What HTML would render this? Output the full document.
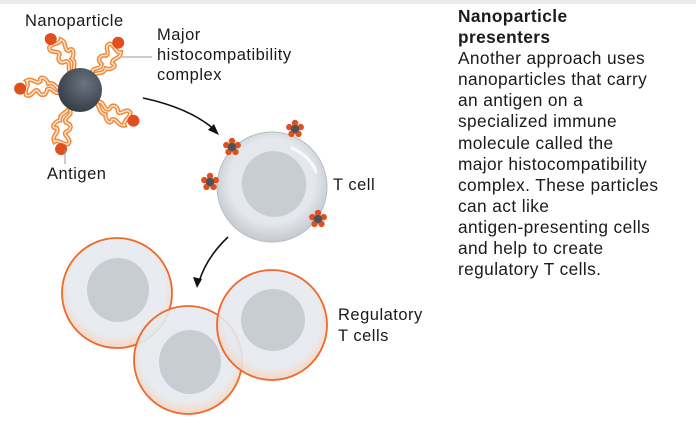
<!DOCTYPE html>
<html><head><style>
body{margin:0;background:#fff;width:696px;height:434px;overflow:hidden;position:relative;font-family:"Liberation Sans",sans-serif;color:#1a1a1a}
.t{position:absolute;font-size:16.5px;line-height:20px;letter-spacing:0.5px}
#txt{position:absolute;left:458px;top:6px;font-size:17.3px;line-height:21.1px;letter-spacing:0.4px;color:#1a1a1a;white-space:nowrap}
</style></head><body>
<div style="position:absolute;left:0;top:0;width:696px;height:4px;background:#ececec"></div>
<svg width="696" height="434" style="position:absolute;left:0;top:0">
<defs>
<radialGradient id="np" cx="0.6" cy="0.35" r="0.7"><stop offset="0" stop-color="#6a7480"/><stop offset="1" stop-color="#323a44"/></radialGradient>
<radialGradient id="cell" cx="0.5" cy="0.45" r="0.55"><stop offset="0.7" stop-color="#e4e7eb"/><stop offset="1" stop-color="#c4c9d0"/></radialGradient>
<radialGradient id="rcell" cx="0.5" cy="0.45" r="0.55"><stop offset="0.8" stop-color="#e6e9ed" stop-opacity="0.9"/><stop offset="1" stop-color="#f6d2bb" stop-opacity="0.9"/></radialGradient>
<g id="mhc"><circle r="4.5" fill="#4a525c"/><circle cx="0" cy="-6" r="3.2" fill="#e0501e"/><circle cx="5.7" cy="-1.9" r="3.2" fill="#e0501e"/><circle cx="3.5" cy="4.9" r="3.2" fill="#e0501e"/><circle cx="-3.5" cy="4.9" r="3.2" fill="#e0501e"/><circle cx="-5.7" cy="-1.9" r="3.2" fill="#e0501e"/><circle r="4" fill="#4a525c"/></g>
<g id="arm"><path d="M0,0 C-4,-6 6,-8 2,-13 C-6,-14 -4,-20 0,-22 C4,-26 -8,-28 -4,-34 C2,-36 6,-30 10,-34 C14,-28 6,-24 10,-20 C16,-22 14,-14 8,-12 C10,-6 4,-4 2,0" fill="none" stroke="#f08a3c" stroke-width="4.5" stroke-linecap="round"/><path d="M0,0 C-4,-6 6,-8 2,-13 C-6,-14 -4,-20 0,-22 C4,-26 -8,-28 -4,-34 C2,-36 6,-30 10,-34 C14,-28 6,-24 10,-20 C16,-22 14,-14 8,-12 C10,-6 4,-4 2,0" fill="none" stroke="#fde3cc" stroke-width="1.5"/><circle cx="2" cy="-40" r="6" fill="#e0501e"/></g>
</defs>
<use href="#arm" transform="translate(72,73) rotate(-35)"/>
<use href="#arm" transform="translate(92,73) rotate(38)"/>
<use href="#arm" transform="translate(60,92) rotate(-88)"/>
<use href="#arm" transform="translate(98,102) rotate(115)"/>
<use href="#arm" transform="translate(70,110) rotate(190)"/>
<circle cx="80" cy="90" r="22" fill="url(#np)"/>
<line x1="122" y1="57" x2="152" y2="57" stroke="#999" stroke-width="1"/>
<line x1="65" y1="150" x2="65" y2="164" stroke="#999" stroke-width="1"/>
<path d="M143,98 Q190,108 215,130" fill="none" stroke="#111" stroke-width="1.6"/>
<path d="M219,135 L208,130 L214,124 Z" fill="#111"/>
<path d="M228,237 Q206,258 199,282" fill="none" stroke="#111" stroke-width="1.6"/>
<path d="M197,288 L193,277 L202,279 Z" fill="#111"/>
<circle cx="272" cy="187" r="55" fill="url(#cell)" stroke="#b8bec6" stroke-width="1"/>
<ellipse cx="274" cy="184" rx="32" ry="33" fill="#c8cdd4" transform="rotate(-20 274 184)"/>
<path d="M292,148 Q312,158 316,172" fill="none" stroke="#fff" stroke-width="3" stroke-linecap="round" opacity="0.8"/>
<use href="#mhc" x="232" y="147"/>
<use href="#mhc" x="295" y="129"/>
<use href="#mhc" x="210" y="182"/>
<use href="#mhc" x="318" y="219"/>
<circle cx="117" cy="293" r="55" fill="url(#rcell)" stroke="#ec6a2e" stroke-width="1.8"/>
<ellipse cx="118" cy="290" rx="31" ry="32" fill="#c8cdd4"/>
<circle cx="188" cy="360" r="54" fill="url(#rcell)" stroke="#ec6a2e" stroke-width="1.8"/>
<ellipse cx="190" cy="362" rx="31" ry="32" fill="#c8cdd4"/>
<circle cx="272" cy="325" r="55" fill="url(#rcell)" stroke="#ec6a2e" stroke-width="1.8"/>
<ellipse cx="273" cy="320" rx="32" ry="31" fill="#c8cdd4"/>
</svg>
<div class="t" style="left:25px;top:11px">Nanoparticle</div>
<div class="t" style="left:157px;top:25px">Major<br>histocompatibility<br>complex</div>
<div class="t" style="left:47px;top:164px">Antigen</div>
<div class="t" style="left:333px;top:175px">T cell</div>
<div class="t" style="left:338px;top:305px;line-height:21px">Regulatory<br>T cells</div>
<div id="txt"><b>Nanoparticle<br>presenters</b><br>Another approach uses<br>nanoparticles that carry<br>an antigen on a<br>specialized immune<br>molecule called the<br>major histocompatibility<br>complex. These particles<br>can act like<br>antigen-presenting cells<br>and help to create<br>regulatory T cells.</div>
</body></html>
